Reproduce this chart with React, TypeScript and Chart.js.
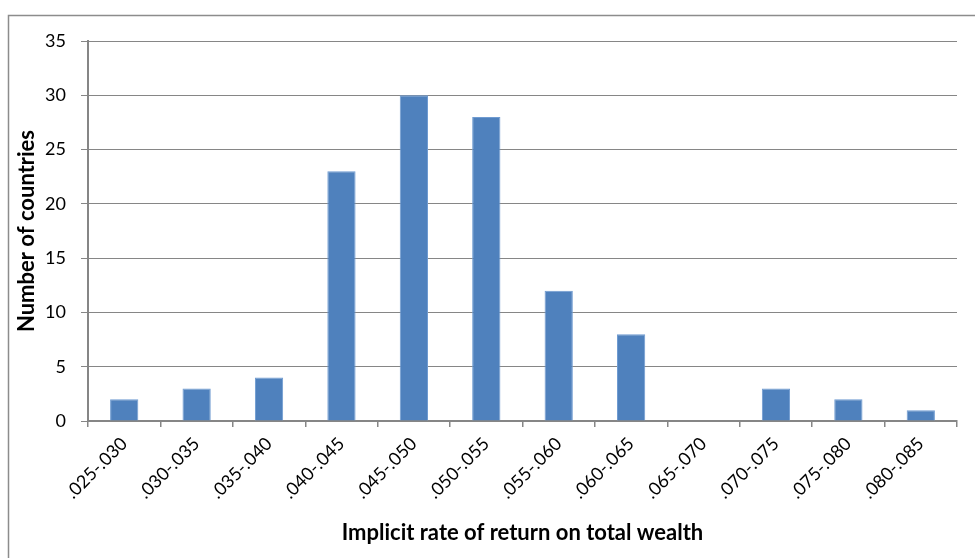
import React, { useEffect, useRef } from "react";
import { Chart, registerables } from "chart.js";

Chart.register(...registerables);

const categories = [
  ".025-.030", ".030-.035", ".035-.040", ".040-.045", ".045-.050", ".050-.055",
  ".055-.060", ".060-.065", ".065-.070", ".070-.075", ".075-.080", ".080-.085",
];
const counts = [2, 3, 4, 23, 30, 28, 12, 8, 0, 3, 2, 1];
const yTicks = [0, 5, 10, 15, 20, 25, 30, 35];

const FONT = "Lato, 'Open Sans', sans-serif";
const GRAY = "#868686";

const framePlugin = {
  id: "frame",
  beforeDraw(chart: any) {
    const ctx = chart.ctx;
    ctx.save();
    ctx.fillStyle = "#ffffff";
    ctx.fillRect(0, 0, chart.width, chart.height);
    ctx.strokeStyle = "#8c8c8c";
    ctx.lineWidth = 1.5;
    ctx.strokeRect(8.5, 15.5, chart.width + 20, chart.height + 20);
    ctx.restore();
  },
};

export default function App() {
  const ref = useRef<HTMLCanvasElement | null>(null);
  useEffect(() => {
    document.body.style.margin = "0";
    const chart = new Chart(ref.current!, {
      type: "bar",
      data: {
        labels: categories,
        datasets: [
          {
            data: counts,
            backgroundColor: "#4F81BD",
            borderColor: "#6f9bd1",
            borderWidth: 1,
            categoryPercentage: 1,
            barPercentage: 0.39,
          },
        ],
      },
      plugins: [framePlugin],
      options: {
        animation: false,
        responsive: false,
        layout: { padding: { left: 0, top: 41, right: 18, bottom: 0 } },
        plugins: { legend: { display: false }, tooltip: { enabled: false } },
        scales: {
          x: {
            afterFit(scale: any) {
              scale.height = 137;
            },
            grid: {
              display: true,
              drawOnChartArea: false,
              drawTicks: true,
              tickLength: 6,
              color: GRAY,
              lineWidth: 1.5,
              offset: true,
            },
            border: { display: true, color: GRAY, width: 2 },
            ticks: {
              minRotation: 45,
              maxRotation: 45,
              autoSkip: false,
              padding: 6,
              color: "#000",
              font: { family: FONT, size: 18 },
            },
            title: {
              display: true,
              text: "Implicit rate of return on total wealth",
              color: "#000",
              font: { family: FONT, size: 22, weight: "bold" },
              padding: { top: 0, bottom: 12 },
            },
          },
          y: {
            min: 0,
            max: 35,
            afterFit(scale: any) {
              scale.width = 88;
            },
            afterBuildTicks(scale: any) {
              scale.ticks = yTicks.map((v) => ({ value: v }));
            },
            grid: {
              color: GRAY,
              lineWidth: 1,
              tickLength: 7,
            },
            border: { display: true, color: GRAY, width: 2 },
            ticks: {
              padding: 15,
              color: "#000",
              font: { family: FONT, size: 18 },
            },
            title: {
              display: true,
              text: "Number of countries",
              color: "#000",
              font: { family: FONT, size: 22, weight: "bold" },
              padding: { top: 14, bottom: 0 },
            },
          },
        },
      },
    });
    return () => chart.destroy();
  }, []);
  return <canvas ref={ref} width={975} height={558} style={{ display: "block" }} />;
}
